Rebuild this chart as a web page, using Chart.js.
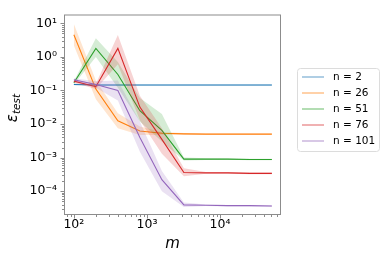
<!DOCTYPE html>
<html>
<head>
<meta charset="utf-8">
<script src="https://cdn.jsdelivr.net/npm/chart.js@4"></script>
<style>
  html, body { margin: 0; padding: 0; background: #fff; }
  #wrap { width: 389px; height: 259px; }
</style>
</head>
<body>
<div id="wrap"><canvas id="errChart" width="389" height="259"></canvas></div>
<script>
// training set sizes
const mValues = [100, 200, 400, 800, 1600, 3200, 6400, 12800, 25600, 51200];

const seriesLabels = ['n = 2', 'n = 26', 'n = 51', 'n = 76', 'n = 101'];
const seriesColors = ['#1f77b4', '#ff7f0e', '#2ca02c', '#d62728', '#9467bd'];

// test error (mean) and the shaded band around it
const errN2 = [0.15, 0.145, 0.145, 0.145, 0.145, 0.145, 0.145, 0.145, 0.145, 0.145];
const hiN2 = [0.158, 0.152, 0.151, 0.151, 0.151, 0.151, 0.151, 0.151, 0.151, 0.151];
const loN2 = [0.142, 0.138, 0.139, 0.139, 0.139, 0.139, 0.139, 0.139, 0.139, 0.139];

const errN26 = [4.6, 0.11, 0.0125, 0.0062, 0.0053, 0.0051, 0.005, 0.005, 0.005, 0.005];
const hiN26 = [9.5, 0.2, 0.021, 0.0085, 0.0058, 0.0054, 0.0052, 0.0052, 0.0052, 0.0052];
const loN26 = [2.2, 0.055, 0.0075, 0.0047, 0.0048, 0.0048, 0.0048, 0.0048, 0.0048, 0.0048];

const errN51 = [0.17, 1.8, 0.3, 0.025, 0.0065, 0.0009, 0.0009, 0.0009, 0.00088, 0.00088];
const hiN51 = [0.19, 3.6, 0.7, 0.06, 0.02, 0.001, 0.00095, 0.00094, 0.00092, 0.00092];
const loN51 = [0.15, 1.0, 0.12, 0.012, 0.003, 0.00082, 0.00085, 0.00086, 0.00084, 0.00084];

const errN76 = [0.19, 0.13, 1.8, 0.032, 0.0035, 0.00036, 0.00035, 0.00035, 0.00034, 0.00034];
const hiN76 = [0.21, 0.16, 4.5, 0.07, 0.0075, 0.00048, 0.00037, 0.00037, 0.00036, 0.00036];
const loN76 = [0.17, 0.11, 0.6, 0.013, 0.0013, 0.00028, 0.00033, 0.00033, 0.00032, 0.00032];

const errN101 = [0.21, 0.15, 0.1, 0.004, 0.00022, 0.000039, 0.000038, 0.000037, 0.000037, 0.000036];
const hiN101 = [0.23, 0.19, 0.2, 0.012, 0.0004, 0.000046, 0.00004, 0.000039, 0.000039, 0.000038];
const loN101 = [0.19, 0.12, 0.05, 0.0015, 0.0001, 0.000034, 0.000036, 0.000035, 0.000035, 0.000034];

const seriesErr = [errN2, errN26, errN51, errN76, errN101];
const seriesHi = [hiN2, hiN26, hiN51, hiN76, hiN101];
const seriesLo = [loN2, loN26, loN51, loN76, loN101];

const frameColor = '#8c8c8c';
const fontFamily = 'DejaVu Sans';

function hexToRgba(hex, a) {
  const n = parseInt(hex.slice(1), 16);
  return `rgba(${(n >> 16) & 255}, ${(n >> 8) & 255}, ${n & 255}, ${a})`;
}

function toPoints(values) {
  return values.map((v, i) => ({ x: mValues[i], y: v }));
}

const supMap = { '-': '\u207b', '0': '\u2070', '1': '\u00b9', '2': '\u00b2', '3': '\u00b3',
  '4': '\u2074', '5': '\u2075', '6': '\u2076', '7': '\u2077', '8': '\u2078', '9': '\u2079' };

function isPow10(v) {
  const l = Math.log10(v);
  return Math.abs(l - Math.round(l)) < 1e-9;
}

function isDecadeMultiple(v) {
  const e = Math.floor(Math.log10(v) + 1e-9);
  const s = v / Math.pow(10, e);
  return Math.abs(s - Math.round(s)) < 1e-6;
}

function logLabel(value) {
  if (!isPow10(value)) return '';
  const e = String(Math.round(Math.log10(value)));
  return '10' + e.split('').map(c => supMap[c]).join('');
}

const datasets = [];
const nSeries = seriesLabels.length;
seriesLabels.forEach((label, i) => {
  const color = seriesColors[i];
  const order = (nSeries - i) * 10;
  datasets.push({
    label: label + ' hi',
    data: toPoints(seriesHi[i]),
    borderWidth: 0,
    borderColor: 'rgba(0,0,0,0)',
    pointRadius: 0,
    fill: false,
    order: order + 1
  });
  datasets.push({
    label: label + ' lo',
    data: toPoints(seriesLo[i]),
    borderWidth: 0,
    borderColor: 'rgba(0,0,0,0)',
    backgroundColor: hexToRgba(color, 0.2),
    pointRadius: 0,
    fill: '-1',
    order: order + 1
  });
  datasets.push({
    label: label,
    data: toPoints(seriesErr[i]),
    borderColor: color,
    borderWidth: 1.1,
    pointRadius: 0,
    fill: false,
    order: order
  });
});

const decorPlugin = {
  id: 'decor',
  afterDraw(chart) {
    const ctx = chart.ctx;
    const area = chart.chartArea;
    ctx.save();

    // frame
    ctx.strokeStyle = frameColor;
    ctx.lineWidth = 1;
    ctx.strokeRect(area.left + 0.5, area.top + 0.5, area.right - area.left - 1, area.bottom - area.top - 1);

    // tick marks (major + minor) from the library's log ticks
    const xs = chart.scales.x;
    xs.ticks.forEach(t => {
      if (!isDecadeMultiple(t.value)) return;
      const px = Math.round(xs.getPixelForValue(t.value)) + 0.5;
      if (px < area.left || px > area.right) return;
      const len = isPow10(t.value) ? 3.5 : 2;
      ctx.beginPath();
      ctx.moveTo(px, area.bottom);
      ctx.lineTo(px, area.bottom + len);
      ctx.stroke();
    });
    const ys = chart.scales.y;
    ys.ticks.forEach(t => {
      if (!isDecadeMultiple(t.value)) return;
      const py = Math.round(ys.getPixelForValue(t.value)) + 0.5;
      if (py < area.top || py > area.bottom) return;
      const len = isPow10(t.value) ? 3.5 : 2;
      ctx.beginPath();
      ctx.moveTo(area.left, py);
      ctx.lineTo(area.left - len, py);
      ctx.stroke();
    });

    // axis titles
    ctx.fillStyle = '#000';
    ctx.textBaseline = 'middle';
    ctx.textAlign = 'center';
    ctx.font = `italic 15px ${fontFamily}`;
    ctx.fillText('m', (area.left + area.right) / 2, 244);

    ctx.translate(13, 108);
    ctx.rotate(-Math.PI / 2);
    ctx.textAlign = 'left';
    ctx.font = `italic 15px ${fontFamily}`;
    const wEps = ctx.measureText('\u03b5').width;
    ctx.font = `italic 10.5px ${fontFamily}`;
    const wSub = ctx.measureText('test').width;
    const start = -(wEps + wSub) / 2;
    ctx.font = `italic 15px ${fontFamily}`;
    ctx.fillText('\u03b5', start, 0);
    ctx.font = `italic 10.5px ${fontFamily}`;
    ctx.fillText('test', start + wEps, 4);
    ctx.setTransform(1, 0, 0, 1, 0, 0);

    // legend
    const bx = 297.5, by = 68.5, bw = 82, bh = 83, r = 3;
    ctx.beginPath();
    ctx.moveTo(bx + r, by);
    ctx.arcTo(bx + bw, by, bx + bw, by + bh, r);
    ctx.arcTo(bx + bw, by + bh, bx, by + bh, r);
    ctx.arcTo(bx, by + bh, bx, by, r);
    ctx.arcTo(bx, by, bx + bw, by, r);
    ctx.closePath();
    ctx.fillStyle = 'rgba(255,255,255,0.8)';
    ctx.fill();
    ctx.strokeStyle = '#dcdcdc';
    ctx.stroke();

    ctx.font = `10.5px ${fontFamily}`;
    ctx.textAlign = 'left';
    ctx.textBaseline = 'middle';
    seriesLabels.forEach((label, i) => {
      const y = 77 + i * 16;
      ctx.strokeStyle = hexToRgba(seriesColors[i], 0.6);
      ctx.lineWidth = 1.2;
      ctx.beginPath();
      ctx.moveTo(302, y);
      ctx.lineTo(324, y);
      ctx.stroke();
      ctx.fillStyle = '#000';
      ctx.fillText(label, 333, y);
    });
    ctx.restore();
  }
};

new Chart(document.getElementById('errChart'), {
  type: 'line',
  data: { datasets: datasets },
  options: {
    responsive: false,
    animation: false,
    devicePixelRatio: 1,
    layout: { padding: { left: 0, top: 5, right: 108, bottom: 0 } },
    plugins: {
      legend: { display: false },
      tooltip: { enabled: false }
    },
    elements: { line: { tension: 0 } },
    scales: {
      x: {
        type: 'logarithmic',
        min: Math.pow(10, 1.865),
        max: Math.pow(10, 4.834),
        grid: { display: false, drawTicks: false },
        border: { display: false },
        afterFit(scale) { scale.height = 44; },
        ticks: {
          autoSkip: false,
          maxRotation: 0,
          padding: 2,
          color: '#000',
          font: { family: fontFamily, size: 12.5 },
          callback: value => logLabel(value)
        }
      },
      y: {
        type: 'logarithmic',
        min: Math.pow(10, -4.71),
        max: Math.pow(10, 1.264),
        grid: { display: false, drawTicks: false },
        border: { display: false },
        afterFit(scale) { scale.width = 64; },
        ticks: {
          autoSkip: false,
          padding: 7,
          color: '#000',
          font: { family: fontFamily, size: 12.5 },
          callback: value => logLabel(value)
        }
      }
    }
  },
  plugins: [decorPlugin]
});
</script>
</body>
</html>
